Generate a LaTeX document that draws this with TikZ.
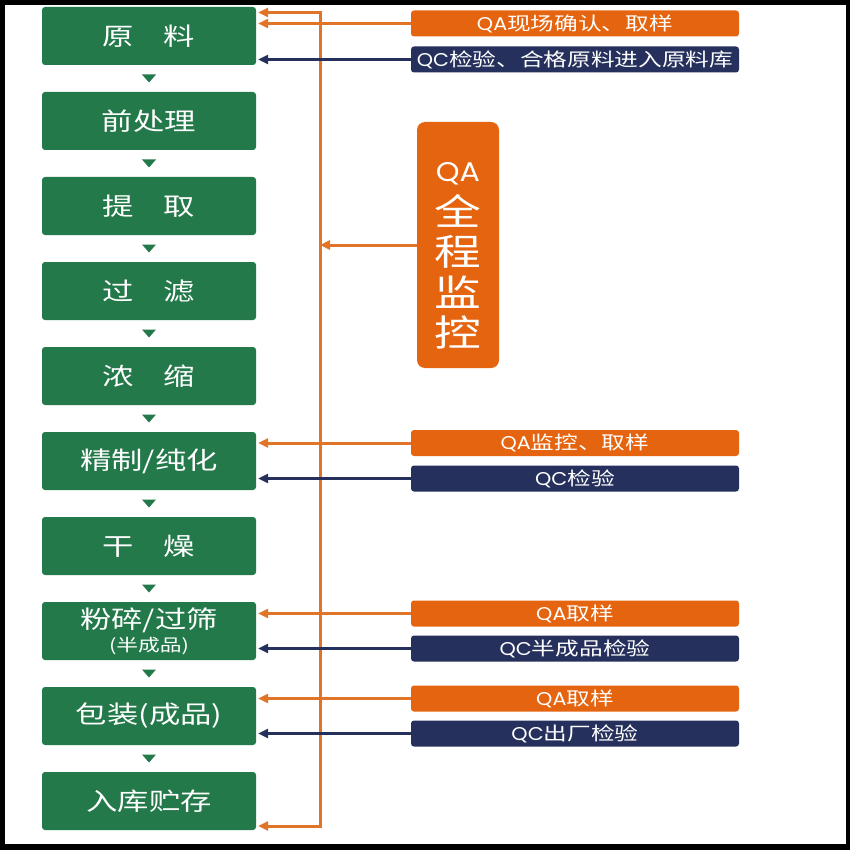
\documentclass[tikz,border=0pt]{standalone}
\usepackage{fontspec}
\setmainfont{Noto Sans CJK SC}[FakeStretch=1.28]
\newfontfamily\lat{Poppins}[FakeStretch=1.12]
\usetikzlibrary{arrows.meta,calc}
\definecolor{grn}{HTML}{23794A}
\definecolor{org}{HTML}{E5640F}
\definecolor{nav}{HTML}{25305C}
\definecolor{oline}{HTML}{E27427}
\tikzset{
  stepbox/.style={fill=grn, rounded corners=3pt, minimum width=214pt, minimum height=58pt,
    text=white, font=\fontsize{24.5}{27}\selectfont, inner sep=0pt, align=center},
  qabox/.style={fill=org, rounded corners=3pt, minimum width=328pt, minimum height=26pt,
    text=white, font=\fontsize{18.5}{21}\selectfont, inner sep=0pt},
  qcbox/.style={qabox, fill=nav},
  tip/.style={-{Triangle[length=10pt,width=9pt]}},
  oarr/.style={draw=oline, line width=3pt, tip},
  narr/.style={draw=nav, line width=2.4pt, tip},
  tri/.style={fill=grn}
}
\begin{document}
\begin{tikzpicture}[x=1pt,y=-1pt]
\useasboundingbox (0,0) rectangle (850,850);
\fill[black] (0,0) rectangle (850,850);
\fill[white] (5,5) rectangle (846,844);

% process steps
\node[stepbox] (b1) at (149,36) {原\hspace{1.2em}料};
\node[stepbox] (b2) at (149,121) {前处理};
\node[stepbox] (b3) at (149,206) {提\hspace{1.2em}取};
\node[stepbox] (b4) at (149,291) {过\hspace{1.2em}滤};
\node[stepbox] (b5) at (149,376) {浓\hspace{1.2em}缩};
\node[stepbox] (b6) at (149,461) {精制/纯化};
\node[stepbox] (b7) at (149,546) {干\hspace{1.2em}燥};
\node[stepbox] (b8) at (149,631) {粉碎/过筛\\[-4pt]{\fontsize{17}{18}\selectfont (半成品)\hspace{18pt}}};
\node[stepbox] (b9) at (149,716) {包装(成品)};
\node[stepbox] (b10) at (149,801) {入库贮存};

% small triangles between steps
\foreach \a/\b in {b1/b2,b2/b3,b3/b4,b4/b5,b5/b6,b6/b7,b7/b8,b8/b9,b9/b10}{
  \coordinate (m) at ($(\a.south)!0.5!(\b.north)$);
  \fill[tri] ($(m)+(-7,-4)$) -- ($(m)+(7,-4)$) -- ($(m)+(0,4)$) -- cycle;
}

% QA / QC labels
\node[qabox] (qa1) at (575,23.5) {{\lat QA}现场确认、取样};
\node[qcbox] (qc1) at (575,59.5) {{\lat QC}检验、合格原料进入原料库};
\node[qabox] (qa2) at (575,443) {{\lat QA}监控、取样};
\node[qcbox] (qc2) at (575,478.5) {{\lat QC}检验};
\node[qabox] (qa3) at (575,613.5) {{\lat QA}取样};
\node[qcbox] (qc3) at (575,648.5) {{\lat QC}半成品检验};
\node[qabox] (qa4) at (575,698.5) {{\lat QA}取样};
\node[qcbox] (qc4) at (575,733.5) {{\lat QC}出厂检验};

% big QA box
\node[fill=org, rounded corners=8pt, minimum width=82pt, minimum height=246pt, inner sep=0pt] (qa) at (458,245) {};
\node[text=white, align=center, inner sep=0pt, font=\fontsize{36.5}{40.5}\selectfont] (qat) at (458,256)
  {{\lat\fontsize{27}{29}\selectfont QA}\\[3pt]全\\程\\监\\控};

% vertical monitoring line
\coordinate (ltop) at (320,12.5);
\coordinate (lbot) at (320,826);
\draw[draw=oline, line width=3pt, {Triangle[length=10pt,width=9pt]}-{Triangle[length=10pt,width=9pt]}]
  ($(b1.east |- ltop)+(2,0)$) -- (ltop) -- (lbot) -- ($(b10.east |- lbot)+(2,0)$);
\draw[oarr] (qa.west) -- (qa.west -| ltop);

% label arrows
\foreach \n/\b in {qa1/b1,qa2/b6,qa3/b8,qa4/b9}{
  \draw[oarr] (\n.west) -- ($(\b.east |- \n.west)+(2,0)$);
}
\foreach \n/\b in {qc1/b1,qc2/b6,qc3/b8,qc4/b9}{
  \draw[narr] (\n.west) -- ($(\b.east |- \n.west)+(2,0)$);
}
\end{tikzpicture}
\end{document}
